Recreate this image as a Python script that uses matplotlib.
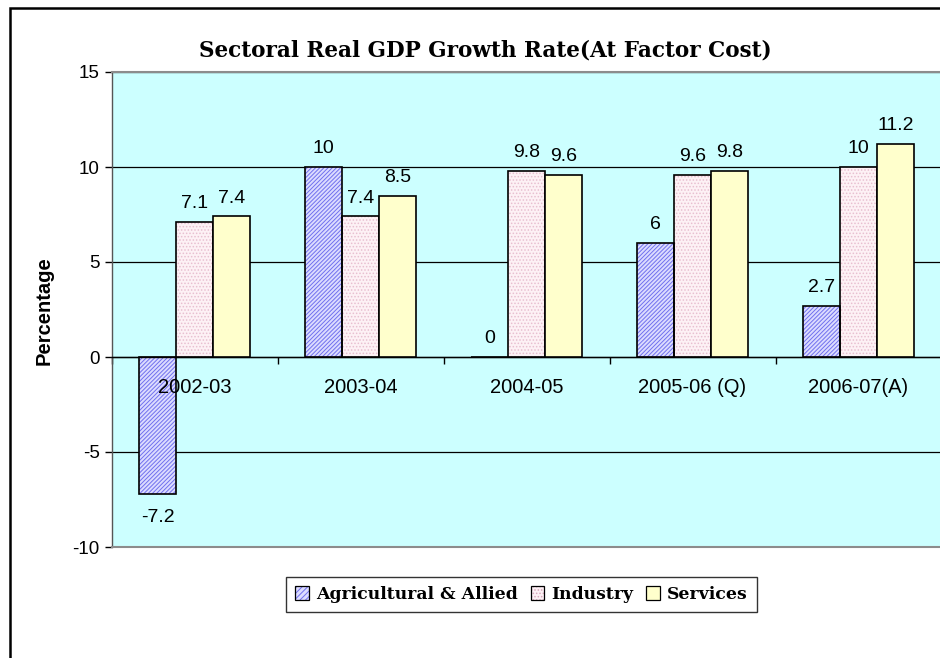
import matplotlib
matplotlib.use('Agg')
from matplotlib import pyplot as plt
from matplotlib.patches import Rectangle, Patch
import numpy as np

anos = ['2002-03', '2003-04', '2004-05', '2005-06 (Q)', '2006-07(A)']
agricultura = [-7.2, 10, 0, 6, 2.7]
industria = [7.1, 7.4, 9.8, 9.6, 10]
servicos = [7.4, 8.5, 9.6, 9.8, 11.2]
rotulos = ['Agricultural & Allied', 'Industry', 'Services']

plt.rcParams['hatch.linewidth'] = 0.7
plt.rcParams['axes.unicode_minus'] = False

fig = plt.figure(dpi=100, figsize=(9.4, 6.58))
ax = fig.add_axes([111.5 / 940, 111 / 658, 830 / 940, 475 / 658])
ax.set_facecolor('#ccffff')

x = np.arange(len(anos))
w = 0.223

# barras: preenchimento com hachura e depois o contorno preto
ax.bar(x - w, agricultura, w, color='#dcdcff', hatch='////////', edgecolor='#7070ee', linewidth=0, zorder=2)
ax.bar(x - w, agricultura, w, fill=False, edgecolor='black', linewidth=1.2, zorder=3)
ax.bar(x, industria, w, color='#fdf1f5', hatch='.....', edgecolor='#e8bfd0', linewidth=0, zorder=2)
ax.bar(x, industria, w, fill=False, edgecolor='black', linewidth=1.2, zorder=3)
ax.bar(x + w, servicos, w, color='#ffffcc', edgecolor='black', linewidth=1.2, zorder=3)

# rotulos de dados
for serie, desloc in [(agricultura, -w), (industria, 0), (servicos, w)]:
    for i, v in enumerate(serie):
        txt = '%g' % v
        if v < 0:
            ax.annotate(txt, (i + desloc, v), xytext=(0, -11), textcoords='offset points',
                        ha='center', va='top', fontsize=14, family='Liberation Sans')
        else:
            ax.annotate(txt, (i + desloc, v), xytext=(0, 7), textcoords='offset points',
                        ha='center', va='bottom', fontsize=14, family='Liberation Sans')

# nomes das categorias junto ao eixo zero, por cima das barras
for i, nome in enumerate(anos):
    ax.annotate(nome, (i, 0), xytext=(0, -15), textcoords='offset points', ha='center',
                va='top', fontsize=14.5, family='Liberation Sans', zorder=5)

ax.set_xlim(-0.5, len(anos) - 0.5)
ax.set_ylim(-10, 15)
ax.set_yticks([-10, -5, 0, 5, 10, 15])
ax.yaxis.grid(True, color='black', linewidth=0.9)
ax.set_axisbelow(True)

ax.spines['bottom'].set_position(('data', 0))
ax.spines['bottom'].set_color('black')
ax.spines['bottom'].set_linewidth(1.0)
ax.spines['right'].set_visible(False)
ax.spines['top'].set_color('#8c8c8c')
ax.spines['top'].set_linewidth(1.5)
ax.spines['left'].set_color('#555555')
ax.spines['left'].set_linewidth(1.0)
ax.axhline(-10, color='#8c8c8c', linewidth=1.5, clip_on=False, zorder=4)

ax.set_xticks(np.arange(-0.5, len(anos), 1.0))
ax.set_xticklabels([])
ax.tick_params(axis='x', which='major', direction='out', length=5, width=1, color='black')
ax.tick_params(axis='y', direction='out', length=5, width=1, labelsize=13.5)
for lb in ax.get_yticklabels():
    lb.set_family('Liberation Sans')

# Formata o grafico
fig.text(485 / 940, 1 - 50 / 658, 'Sectoral Real GDP Growth Rate(At Factor Cost)',
         ha='center', va='center', fontsize=15.5, fontweight='bold', family='DejaVu Serif')
fig.text(44 / 940, 1 - 311 / 658, 'Percentage', rotation=90, ha='center', va='center',
         fontsize=14.5, fontweight='bold', family='Liberation Sans')

contorno = dict(fill=False, edgecolor='black', linewidth=0.9)
handles = [(Patch(facecolor='#dcdcff', hatch='//////', edgecolor='#7070ee', linewidth=0), Patch(**contorno)),
           (Patch(facecolor='#fdf1f5', hatch='.....', edgecolor='#d8a8bc', linewidth=0), Patch(**contorno)),
           (Patch(facecolor='#ffffcc', linewidth=0), Patch(**contorno))]
leg = fig.legend(handles, rotulos, loc='center', bbox_to_anchor=(521.5 / 940, 1 - 594.5 / 658),
                 ncol=3, frameon=True, fancybox=False, handlelength=0.8, handleheight=0.8,
                 handletextpad=0.4, columnspacing=0.75, borderpad=0.55,
                 prop={'family': 'DejaVu Serif', 'weight': 'bold', 'size': 12.4})
leg.get_frame().set_edgecolor('black')
leg.get_frame().set_linewidth(1.0)

fig.patches.append(Rectangle((10 / 940, -0.1), 1.0, 1 - 8 / 658 + 0.1, transform=fig.transFigure,
                             fill=False, edgecolor='black', linewidth=1.8))

fig.savefig('out.png', dpi=100)
